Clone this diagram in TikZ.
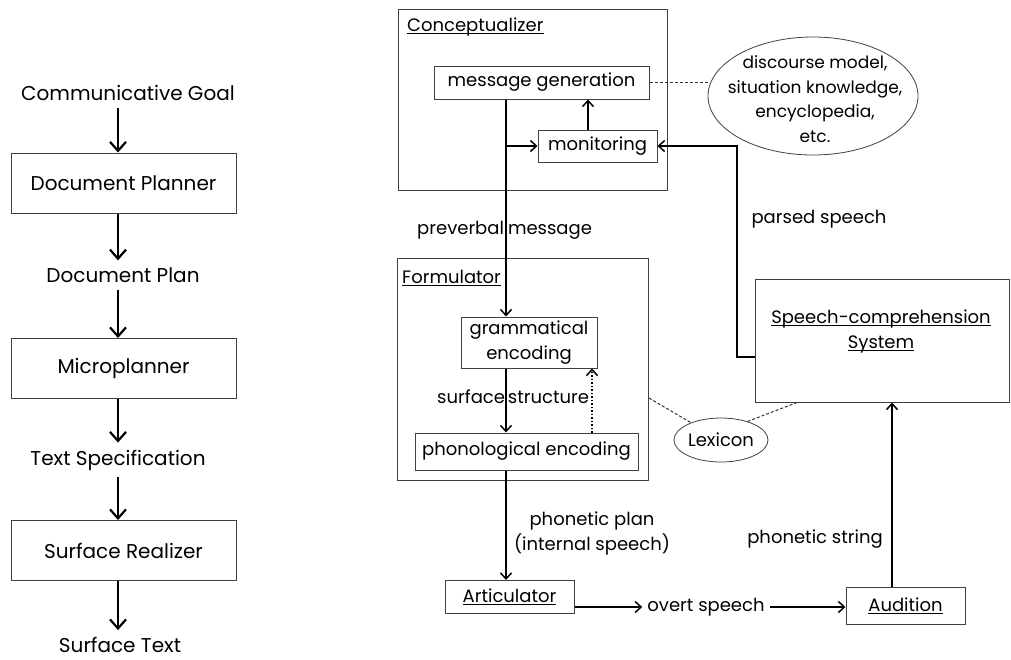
\documentclass[tikz,border=0pt]{standalone}
\usepackage{fontspec}
\setmainfont{Poppins}
\usetikzlibrary{arrows.meta,shapes.geometric}
\newsavebox{\ulbox}
\newcommand{\ulword}[1]{\sbox{\ulbox}{#1}\rlap{\rule[-2.5pt]{\wd\ulbox}{0.9pt}}\usebox{\ulbox}}

\begin{document}
\begin{tikzpicture}[x=1pt,y=-1pt,
    bigtxt/.style={font=\fontsize{20}{25}\selectfont, inner sep=7pt},
    smalltxt/.style={font=\fontsize{18}{25}\selectfont, inner sep=2pt, align=center},
    bigbox/.style={draw=black!75, line width=1pt, bigtxt, minimum width=225, minimum height=60},
    smallbox/.style={draw=black!75, line width=1pt, smalltxt, inner sep=0pt},
    oval/.style={ellipse, draw=black!75, line width=0.8pt, smalltxt, inner sep=0pt},
    flow/.style={line width=2.2pt, -{Straight Barb[length=9pt,width=16pt,line width=2.2pt]}},
    link/.style={line width=1.7pt, -{Straight Barb[length=6pt,width=11pt,line width=1.5pt]}},
    dashlink/.style={line width=1pt, densely dashed, black!80}]
			%%%%% START %%%%%
			\useasboundingbox (0,0) rectangle (1011,659);
			
			% left column
			\coordinate (lx) at (118,0);
			\node[bigtxt] (goal) at (128,93) {Communicative Goal};
			\node[bigbox] (docplanner) at (123.5,183) {Document Planner};
			\node[bigtxt] (docplan) at (123,275) {Document Plan};
			\node[bigbox] (microplanner) at (123.5,368.5) {Microplanner};
			\node[bigtxt] (textspec) at (118,460) {Text Specification};
			\node[bigbox] (realizer) at (123.5,550.5) {Surface Realizer};
			\node[bigtxt] (surftext) at (120,645) {Surface Text};
			
			\draw[flow] (goal.south -| lx) -- (docplanner.north -| lx);
			\draw[flow] (docplanner.south -| lx) -- (docplan.north -| lx);
			\draw[flow] (docplan.south -| lx) -- (microplanner.north -| lx);
			\draw[flow] (microplanner.south -| lx) -- (textspec.north -| lx);
			\draw[flow] (textspec.south -| lx) -- (realizer.north -| lx);
			\draw[flow] (realizer.south -| lx) -- (surftext.north -| lx);
			
			% conceptualizer
			\node[smallbox, minimum width=269, minimum height=181] (concbox) at (532.5,99.5) {};
			\node[smalltxt, anchor=west] (conclabel) at (405,27) {\ulword{Conceptualizer}};
			\node[smallbox, minimum width=215, minimum height=33] (msggen) at (541.5,82.5) {message generation};
			\node[smallbox, minimum width=119, minimum height=32] (monitor) at (597.5,146) {monitoring};
			\node[oval, minimum width=210, minimum height=118] (knowledge) at (813,96) {};
			\node[smalltxt, font=\fontsize{17}{24.5}\selectfont] (knowtext) at (815,99) {discourse model,\\situation knowledge,\\encyclopedia,\\etc.};
			
			% formulator
			\node[smallbox, minimum width=251, minimum height=222] (formbox) at (522.5,369) {};
			\node[smalltxt, anchor=west] (formlabel) at (400,278) {\ulword{Formulator}};
			\node[smallbox, minimum width=136, minimum height=51] (gramenc) at (529,342.5) {grammatical\\encoding};
			\node[smallbox, minimum width=223, minimum height=37] (phonenc) at (526.5,451.5) {phonological encoding};
			\node[oval, minimum width=94, minimum height=44] (lexicon) at (721,440) {Lexicon};
			
			% comprehension side
			\node[smallbox, minimum width=254, minimum height=123] (speechbox) at (882,340.5) {};
			\node[smalltxt] (speech) at (881,331) {\ulword{Speech-comprehension}\\\ulword{System}};
			\node[smallbox, minimum width=129, minimum height=33] (articulator) at (509.5,597) {\ulword{Articulator}};
			\node[smallbox, minimum width=119, minimum height=37] (audition) at (905.5,605.5) {\ulword{Audition}};
			\node[smalltxt, inner sep=5pt] (overt) at (706,607) {overt speech};
			
			% labels
			\node[smalltxt, inner sep=0pt] (preverbal) at (506,230) {\makebox[0pt][r]{preverbal\hspace{2pt}}\makebox[0pt][l]{\hspace{2pt}message}};
			\node[smalltxt, inner sep=0pt] (surfstruct) at (506,397) {\makebox[0pt][r]{surface\hspace{1pt}}\makebox[0pt][l]{\hspace{2pt}structure}};
			\node[smalltxt] (parsed) at (819,219) {parsed speech};
			\node[smalltxt] (phonplan) at (592,533) {phonetic plan\\(internal speech)};
			\node[smalltxt] (phonstring) at (815,539) {phonetic string};
			
			% connectors
			\coordinate (vx) at (506,0);
			\coordinate (mx) at (588,0);
			\coordinate (dx) at (592,0);
			\coordinate (ax) at (892,0);
			\coordinate (px) at (737,357);
			\coordinate (lexl) at (649,398);
			\coordinate (lexr) at (797,0);
			
			\draw[line width=1.7pt] (msggen.south -| vx) -- (monitor.west -| vx);
			\draw[link] (monitor.west -| vx) -- (monitor.west);
			\draw[link] (monitor.west -| vx) -- (gramenc.north -| vx);
			\draw[link] (monitor.north -| mx) -- (msggen.south -| mx);
			\draw[dashlink] (msggen.east) -- (knowledge.west |- msggen.east);
			\draw[link] (speechbox.west |- px) -- (px) |- (monitor.east);
			\draw[link] (gramenc.south -| vx) -- (phonenc.north -| vx);
			\draw[line width=1.5pt, dotted, -{Straight Barb[length=6pt,width=11pt,line width=1.5pt]}] (phonenc.north -| dx) -- (gramenc.south -| dx);
			\draw[link] (phonenc.south -| vx) -- (articulator.north -| vx);
			\draw[link] (articulator.east |- overt.west) -- (overt.west);
			\draw[link] (overt.east) -- (audition.west |- overt.east);
			\draw[link] (audition.north -| ax) -- (speechbox.south -| ax);
			\draw[dashlink] (lexl) -- (lexicon.150);
			\draw[dashlink] (lexicon.35) -- (speechbox.south -| lexr);
			
			%%%%% END %%%%%
\end{tikzpicture}
\end{document}
